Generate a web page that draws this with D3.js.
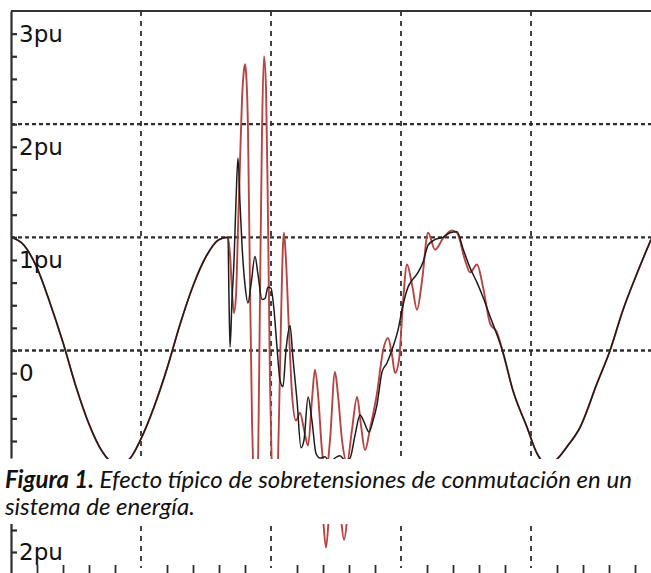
<!DOCTYPE html>
<html>
<head>
<meta charset="utf-8">
<script src="https://cdn.jsdelivr.net/npm/d3@7"></script>
<style>
  html, body { margin: 0; padding: 0; background: #fff; }
  svg { display: block; }
</style>
</head>
<body>
<svg id="chart" width="651" height="573"></svg>
<script>
// Time in ms, voltage in pu.
// Steady-state waveform before the switching instant (shared by both traces).
const preTime = [0, 1, 2, 3, 4, 5, 6, 7, 8, 9, 10, 11, 12, 13, 14, 15, 16, 16.69];
const preVolt = [1.2, 1.13, 0.93, 0.62, 0.27, -0.12, -0.45, -0.69, -0.80, -0.77, -0.58, -0.30, 0.04, 0.43, 0.77, 1.03, 1.18, 1.2];

// Black trace during the transient.
const blackTime = [16.77, 16.85, 17.0, 17.15, 17.31, 17.46, 17.62, 17.77, 18.0, 18.23,
  18.46, 18.77, 19.0, 19.31, 19.54, 19.77, 20.0, 20.23, 20.46, 20.69,
  20.92, 21.15, 21.46, 21.69, 22.0, 22.31, 22.54, 22.85, 23.15, 23.46,
  23.77, 24.15, 24.54, 24.92, 25.31, 25.69, 26.08, 26.46, 26.85, 27.15,
  27.54, 27.85, 28.15, 28.54, 28.92, 29.38, 29.77, 30.15, 30.54, 30.92,
  31.31, 31.69, 32.08, 32.62, 33.23, 33.77, 34.31, 34.77, 35.31, 35.85,
  36.38, 36.85, 37.38];
const blackVolt = [0.65, 0.23, 0.65, 0.98, 1.53, 1.90, 1.49, 1.13, 0.78, 0.62,
  0.78, 1.03, 0.87, 0.65, 0.66, 0.76, 0.75, 0.56, 0.23, -0.06,
  -0.12, 0.20, 0.42, 0.13, -0.24, -0.66, -0.59, -0.21, -0.42, -0.71,
  -0.75, -0.74, -0.79, -0.75, -0.73, -0.77, -0.75, -0.55, -0.37, -0.43,
  -0.52, -0.42, -0.28, 0.01, 0.09, 0.23, 0.38, 0.60, 0.76, 0.83,
  0.89, 0.98, 1.13, 1.18, 1.20, 1.24, 1.25, 1.10, 0.93, 0.80,
  0.65, 0.50, 0.34];

// Red trace during the transient.
const redTime = [16.85, 17.0, 17.15, 17.31, 17.46, 17.62, 17.77, 17.92, 18.0, 18.08,
  18.23, 18.38, 18.54, 18.69, 18.85, 19.0, 19.15, 19.31, 19.46, 19.62,
  19.77, 19.92, 20.08, 20.31, 20.54, 20.77, 20.92, 21.0, 21.15, 21.38,
  21.62, 21.92, 22.23, 22.54, 22.85, 23.15, 23.38, 23.62, 23.92, 24.23,
  24.54, 24.92, 25.15, 25.46, 25.85, 26.23, 26.62, 26.92, 27.23, 27.62,
  28.15, 28.62, 29.0, 29.31, 29.54, 29.85, 30.15, 30.46, 30.85, 31.23,
  31.62, 32.08, 32.62, 33.23, 33.92, 34.31, 34.92, 35.31, 35.85, 36.31,
  36.85, 37.38];
const redVolt = [1.04, 0.73, 0.53, 0.69, 1.27, 1.88, 2.42, 2.68, 2.73, 2.66,
  2.15, 0.82, -0.42, -1.12, -1.39, -0.86, 0.65, 2.15, 2.80, 2.50,
  1.35, -0.06, -0.95, -1.30, -0.77, 0.47, 1.13, 1.24, 1.00, 0.38,
  -0.19, -0.42, -0.35, -0.50, -0.64, -0.24, 0.03, -0.19, -0.68, -0.90,
  -0.59, 0.01, -0.19, -0.59, -0.79, -0.50, -0.21, -0.46, -0.68, -0.49,
  -0.18, 0.20, 0.31, 0.16, 0.00, 0.12, 0.62, 0.96, 0.78, 0.56,
  0.82, 1.24, 1.09, 1.19, 1.26, 1.24, 1.00, 0.89, 0.96, 0.76,
  0.44, 0.36];

// Waveform after the transient has died out (shared by both traces).
const tailTime = [37.85, 38.6, 39.7, 40.46, 41.15, 41.9, 42.77, 43.77, 45.08, 46.08, 47.08, 48.15, 49.23];
const tailVolt = [0.18, -0.15, -0.48, -0.71, -0.80, -0.77, -0.65, -0.48, -0.09, 0.20, 0.56, 0.88, 1.18];

// Axis ticks and grid.
const yTickValues = [-0.6, -0.4, -0.2, 0, 0.2, 0.4, 0.6, 0.8, 1.0, 1.2, 1.4, 1.6, 1.8, 2.0, 2.2, 2.4, 2.6, 2.8, 3.0];
const yLabelValues = [0, 1, 2, 3];
const yLabelText = ["0", "1pu", "2pu", "3pu"];
const gridTimes = [10, 20, 30, 40];
const gridVolts = [0.2, 1.2, 2.2];

// Caption.
const captionBold = "Figura 1.";
const captionRest = " Efecto típico de sobretensiones de conmutación en un";
const captionLine2 = "sistema de energía.";

// Second panel (top edge only).
const lowTickValues = [2.0, 2.2];
const lowLabelValues = [2.0];
const lowLabelText = ["2pu"];
const lowTickTimes = [2, 4, 6, 8, 12, 14, 16, 18, 22, 24, 26, 28, 32, 34, 36, 38, 42, 44, 46, 48];
const lowRedTime = [23.6, 23.95, 24.23, 24.5, 24.95, 25.35, 25.62, 25.9, 26.3];
const lowRedVolt = [2.9, 2.4, 2.04, 2.4, 2.9, 2.35, 2.11, 2.35, 2.9];

// ---------------------------------------------------------------
const svg = d3.select("#chart");
const W = 651;
const plotLeft = 11, plotTop = 11, plotBottom = 458;
const labelFont = "'DejaVu Sans', Verdana, sans-serif";
const axisColor = "#2e2e2e";

const x = d3.scaleLinear().domain([0, 49.23]).range([plotLeft, W]);
const y = d3.scaleLinear().domain([-0.75, 3.2]).range([plotBottom, plotTop]);

const zip = (t, v) => t.map((d, i) => [d, v[i]]);
const blackData = zip(preTime, preVolt).concat(zip(blackTime, blackVolt), zip(tailTime, tailVolt));
const redData = zip(preTime, preVolt).concat(zip(redTime, redVolt), zip(tailTime, tailVolt));

svg.append("rect").attr("width", W).attr("height", 573).attr("fill", "#fff");

const defs = svg.append("defs");
defs.append("clipPath").attr("id", "plotClip")
  .append("rect").attr("x", plotLeft).attr("y", plotTop)
  .attr("width", W - plotLeft).attr("height", plotBottom - plotTop + 1);

// grid: dotted horizontals, dashed verticals
const grid = svg.append("g");
grid.selectAll("line.h").data(gridVolts).join("line").attr("class", "h")
  .attr("x1", plotLeft).attr("x2", W)
  .attr("y1", d => y(d)).attr("y2", d => y(d))
  .attr("stroke", axisColor).attr("stroke-width", 2.4).attr("stroke-dasharray", "4,3");
grid.selectAll("line.v").data(gridTimes).join("line").attr("class", "v")
  .attr("x1", d => x(d)).attr("x2", d => x(d))
  .attr("y1", plotTop).attr("y2", plotBottom)
  .attr("stroke", axisColor).attr("stroke-width", 1.8).attr("stroke-dasharray", "5,5");

// traces
const line = d3.line().x(d => x(d[0])).y(d => y(d[1])).curve(d3.curveMonotoneX);
const traces = svg.append("g").attr("clip-path", "url(#plotClip)");
traces.append("path").datum(redData).attr("d", line)
  .attr("fill", "none").attr("stroke", "#b54543").attr("stroke-width", 1.9).attr("stroke-linejoin", "round");
traces.append("path").datum(blackData).attr("d", line)
  .attr("fill", "none").attr("stroke", "#1c1c1c").attr("stroke-width", 1.5).attr("stroke-linejoin", "round");

// top border
svg.append("line")
  .attr("x1", plotLeft).attr("x2", W).attr("y1", y(3.2)).attr("y2", y(3.2))
  .attr("stroke", "#333").attr("stroke-width", 2.2);

// left axis with inward ticks
const labelFor = d => {
  const i = yLabelValues.findIndex(v => Math.abs(v - d) < 1e-6);
  return i >= 0 ? yLabelText[i] : "";
};
const yAxis = d3.axisRight(y).tickValues(yTickValues).tickSizeInner(6).tickSizeOuter(0)
  .tickPadding(2).tickFormat(labelFor);
const gy = svg.append("g").attr("transform", `translate(${plotLeft},0)`).call(yAxis);
gy.select(".domain").attr("stroke", axisColor).attr("stroke-width", 2.2);
gy.selectAll(".tick line").attr("stroke", axisColor).attr("stroke-width", 2.2);
gy.selectAll(".tick text").attr("fill", "#111")
  .style("font-family", labelFont).style("font-size", "23px");

// caption
const cap = svg.append("g").style("font-family", "Lato, 'Open Sans', sans-serif").attr("fill", "#111");
const line1 = cap.append("text").attr("x", 5).attr("y", 488).style("font-style", "italic").style("font-size", "22px");
line1.append("tspan").style("font-weight", "bold").text(captionBold);
line1.append("tspan").text(captionRest);
const wantWidth = 627;
const got = line1.node().getComputedTextLength();
const fs = 22 * wantWidth / got;
line1.style("font-size", fs + "px");
cap.append("text").attr("x", 5).attr("y", 515).style("font-style", "italic")
  .style("font-size", fs + "px").text(captionLine2);

// second panel, top edge
const lowTop = 524;
const ly = d3.scaleLinear().domain([1.8, 2.4]).range([574, 508]);
defs.append("clipPath").attr("id", "lowClip")
  .append("rect").attr("x", 0).attr("y", lowTop).attr("width", W).attr("height", 573 - lowTop);
const low = svg.append("g").attr("clip-path", "url(#lowClip)");

low.selectAll("line.v").data(gridTimes).join("line").attr("class", "v")
  .attr("x1", d => x(d)).attr("x2", d => x(d))
  .attr("y1", lowTop + 2).attr("y2", 568)
  .attr("stroke", axisColor).attr("stroke-width", 1.8).attr("stroke-dasharray", "5,5");

const lowX = d3.axisBottom(x).tickValues(lowTickTimes).tickSizeInner(8).tickSizeOuter(0).tickFormat("");
const gx = low.append("g").attr("transform", "translate(0,565)").call(lowX);
gx.select(".domain").remove();
gx.selectAll(".tick line").attr("stroke", axisColor).attr("stroke-width", 1.8);

low.append("path").datum(zip(lowRedTime, lowRedVolt))
  .attr("d", d3.line().x(d => x(d[0])).y(d => ly(d[1])).curve(d3.curveMonotoneX))
  .attr("fill", "none").attr("stroke", "#b54543").attr("stroke-width", 1.9);

const lowLabelFor = d => {
  const i = lowLabelValues.findIndex(v => Math.abs(v - d) < 1e-6);
  return i >= 0 ? lowLabelText[i] : "";
};
const lowY = d3.axisRight(ly).tickValues(lowTickValues).tickSizeInner(6).tickSizeOuter(0)
  .tickPadding(2).tickFormat(lowLabelFor);
const gly = low.append("g").attr("transform", `translate(${plotLeft},0)`).call(lowY);
gly.select(".domain").attr("stroke", axisColor).attr("stroke-width", 2.2);
gly.selectAll(".tick line").attr("stroke", axisColor).attr("stroke-width", 2.2);
gly.selectAll(".tick text").attr("fill", "#111")
  .style("font-family", labelFont).style("font-size", "23px");
</script>
</body>
</html>
